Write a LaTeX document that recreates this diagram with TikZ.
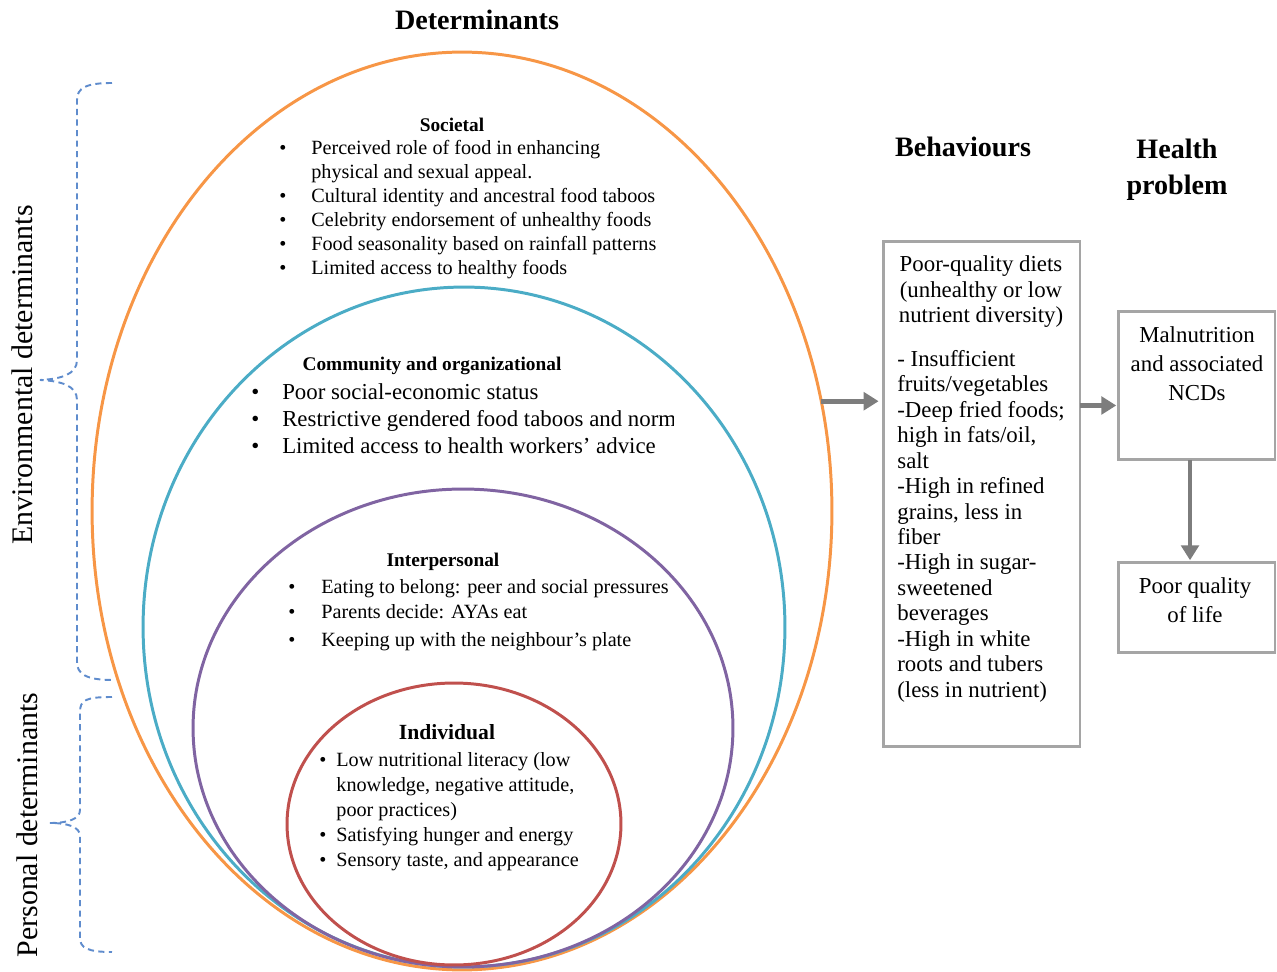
\documentclass[tikz,border=0pt]{standalone}
\usepackage{fontspec}
\setmainfont{Liberation Serif}
\usetikzlibrary{arrows.meta,shapes.geometric}
\definecolor{ring_orange}{RGB}{247,150,70}
\definecolor{ring_teal}{RGB}{75,172,198}
\definecolor{ring_purple}{RGB}{128,100,162}
\definecolor{ring_red}{RGB}{192,80,77}
\definecolor{edge_gray}{RGB}{165,165,165}
\definecolor{arrow_gray}{RGB}{125,125,125}
\definecolor{brace_blue}{RGB}{95,140,205}

\newcommand{\blt}{\textbullet}

\begin{document}
\begin{tikzpicture}[x=0.02cm,y=-0.02cm]
    \tikzstyle{ring}=[ellipse, draw, line width=1.7pt, inner sep=0pt, outer sep=0pt]
    \tikzstyle{head}=[font=\bfseries\fontsize{16}{20.5}\selectfont, align=center]
    \tikzstyle{ttl}=[font=\bfseries\fontsize{11}{13}\selectfont]
    \tikzstyle{lst}=[anchor=north west, inner sep=0pt]
    \tikzstyle{box}=[draw=edge_gray, line width=1.7pt, rectangle, inner sep=0pt, outer sep=0pt]
    \tikzstyle{txt}=[font=\fontsize{13}{16.5}\selectfont, align=center]
    \tikzstyle{flow}=[draw=arrow_gray, line width=2.8pt, -{Triangle[width=10pt,length=8.5pt]}]
    \tikzstyle{brc}=[draw=brace_blue, line width=1.1pt, dash pattern=on 3.5pt off 2.5pt]
    \tikzstyle{side}=[rotate=90, font=\fontsize{17}{20}\selectfont]

    \useasboundingbox (0,0) rectangle (1277,972);

    % nested rings
    \node[ring, draw=ring_orange, minimum width=14.8cm, minimum height=18.36cm] (societal) at (462,511) {};
    \node[ring, draw=ring_teal, minimum width=12.84cm, minimum height=13.6cm] (community) at (464,627) {};
    \node[ring, draw=ring_purple, minimum width=10.8cm, minimum height=9.56cm] (interpersonal) at (463,728) {};
    \node[ring, draw=ring_red, minimum width=6.68cm, minimum height=5.64cm] (individual) at (454,824) {};

    % column headings
    \node[head] (dethead) at (477,20) {Determinants};
    \node[head] (behhead) at (963,147) {Behaviours};
    \node[head] (hlthhead) at (1177,170) {Health\\problem};

    % ring texts
    \node[ttl] (soctitle) at (452,125) {Societal};
    \node[lst, font=\fontsize{11.5}{13.7}\selectfont] (soclist) at (279,137) {\begin{tabular}{@{}p{18.2pt}@{}l@{}}
      \blt & Perceived role of food in enhancing\\
           & physical and sexual appeal.\\
      \blt & Cultural identity and ancestral food taboos\\
      \blt & Celebrity endorsement of unhealthy foods\\
      \blt & Food seasonality based on rainfall patterns\\
      \blt & Limited access to healthy foods
    \end{tabular}};

    \node[ttl] (comtitle) at (432,366) {Community and organizational};
    \begin{scope}
      \clip (0,0) rectangle (673,972);
      \node[lst, font=\fontsize{13}{15.4}\selectfont] (comlist) at (251,380) {\begin{tabular}{@{}p{17.6pt}@{}l@{}}
        \blt & Poor social-economic status\\
        \blt & Restrictive gendered food taboos and norms\\
        \blt & Limited access to health workers’ advice
      \end{tabular}};
    \end{scope}

    \node[ttl] (inttitle) at (443,562) {Interpersonal};
    \node[lst, font=\fontsize{11.5}{14.2}\selectfont] (intlist) at (288,576) {\begin{tabular}{@{}p{18.8pt}@{}l@{}}
      \blt & Eating to belong: peer and social pressures\\
      \blt & Parents decide: AYAs eat\\[1.5pt]
      \blt & Keeping up with the neighbour’s plate
    \end{tabular}};

    \node[ttl, font=\bfseries\fontsize{12.3}{14}\selectfont] (indtitle) at (447,732) {Individual};
    \node[lst, font=\fontsize{11.5}{14.2}\selectfont] (indlist) at (319,749) {\begin{tabular}{@{}p{9.7pt}@{}l@{}}
      \blt & Low nutritional literacy (low\\
           & knowledge, negative attitude,\\
           & poor practices)\\
      \blt & Satisfying hunger and energy\\
      \blt & Sensory taste, and appearance
    \end{tabular}};

    % side braces
    \draw[brc] (112,83) .. controls (86,83) and (77,88) .. (77,100) -- (77,360)
       .. controls (77,374) and (62,379) .. (40,380)
       .. controls (62,381) and (77,386) .. (77,400) -- (77,662)
       .. controls (77,674) and (86,680) .. (113,680);
    \draw[brc] (112,697) .. controls (86,697) and (80,700) .. (80,712) -- (80,810)
       .. controls (80,819) and (68,823) .. (50,823)
       .. controls (68,823) and (80,827) .. (80,836) -- (80,938)
       .. controls (80,948) and (88,952) .. (112,952);
    \node[side] (envlabel) at (22,375) {Environmental determinants};
    \node[side] (perlabel) at (27,825) {Personal determinants};

    % behaviours
    \node[box, minimum width=3.94cm, minimum height=10.12cm] (behbox) at (981.5,494) {};
    \node[txt, font=\fontsize{13}{14.5}\selectfont] (behtop) at (981,292) {Poor-quality diets\\(unhealthy or low\\nutrient diversity)};
    \node[lst, font=\fontsize{13}{14.5}\selectfont] (behlist) at (897,348) {\begin{tabular}{@{}l@{}}
      - Insufficient\\
      fruits/vegetables\\
      -Deep fried foods;\\
      high in fats/oil,\\
      salt\\
      -High in refined\\
      grains, less in\\
      fiber\\
      -High in sugar-\\
      sweetened\\
      beverages\\
      -High in white\\
      roots and tubers\\
      (less in nutrient)
    \end{tabular}};

    % health problem
    \node[box, minimum width=3.14cm, minimum height=2.98cm] (malnut) at (1196.5,385.5) {};
    \node[txt] (maltext) at (1197,364) {Malnutrition\\and associated\\NCDs};
    \node[box, minimum width=3.14cm, minimum height=1.82cm] (qol) at (1196.5,607.5) {};
    \node[txt] (qoltext) at (1195,600) {Poor quality\\of life};

    % arrows
    \coordinate (malin) at ([yshift=-0.4cm]malnut.west);
    \coordinate (malout) at ([xshift=-0.13cm]malnut.south);
    \draw[flow, shorten >=2.5pt] (societal.17) -- (societal.17 -| behbox.west);
    \draw[flow, shorten >=1pt] (behbox.east |- malin) -- (malin);
    \draw[flow, shorten >=1pt] (malout) -- (malout |- qol.north);
\end{tikzpicture}
\end{document}
